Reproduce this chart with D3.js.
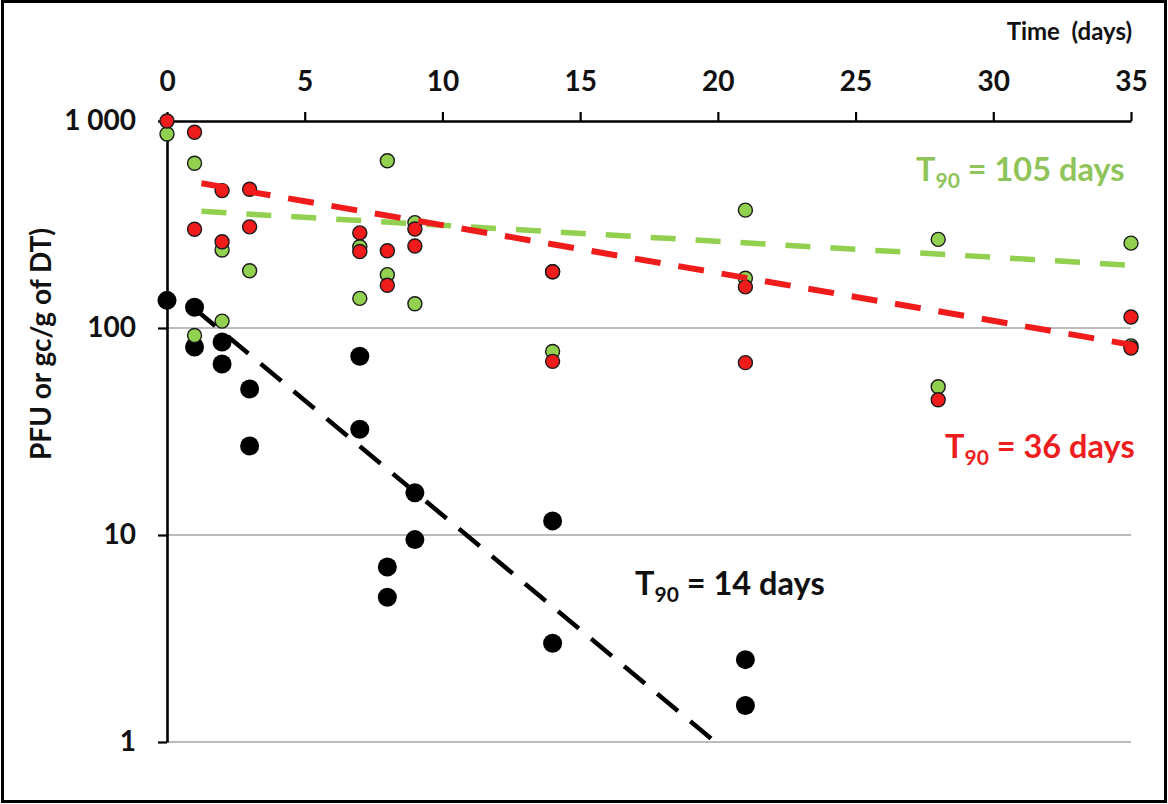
<!DOCTYPE html>
<html>
<head>
<meta charset="utf-8">
<script src="https://cdn.jsdelivr.net/npm/d3@7"></script>
<style>
  html, body { margin: 0; padding: 0; background: #fff; }
  svg { display: block; font-family: Lato, "Open Sans", sans-serif; }
</style>
</head>
<body>
<svg id="chart" width="1168" height="804"></svg>
<script>
// Time axis (days) and concentration ticks
const dayTicks = [0, 5, 10, 15, 20, 25, 30, 35];
const concTicks = [1, 10, 100, 1000];

// Infectious phage counts (black)
const blackDays   = [0, 1, 1, 2, 2, 3, 3, 7, 7, 8, 8, 9, 9, 14, 14, 21, 21];
const blackValues = [136, 126, 81, 85.5, 67, 50.7, 26.9, 73, 32.4, 7.0, 5.0, 16.0, 9.5, 11.7, 3.0, 2.5, 1.5];

// Genome copies, first assay (green)
const greenDays   = [0, 1, 1, 2, 2, 3, 7, 7, 8, 8, 9, 9, 14, 14, 21, 21, 28, 28, 35, 35];
const greenValues = [865, 625, 92, 238, 108, 189, 247, 139, 643, 181, 323, 131, 187, 77, 371, 174, 268, 52, 257, 82];

// Genome copies, second assay (red)
const redDays   = [0, 1, 1, 2, 2, 3, 3, 7, 7, 8, 8, 9, 9, 14, 14, 21, 21, 28, 35, 35];
const redValues = [1000, 882, 300, 461, 261, 468, 308, 288, 234, 236, 161, 301, 249, 187, 69, 158, 68, 45, 113, 80];

// Log-linear decay trend lines (start and end)
const blackTrendDays = [1, 19.9];
const blackTrendValues = [124, 1];
const greenTrendDays = [1.25, 35];
const greenTrendValues = [366, 201];
const redTrendDays = [1.25, 35];
const redTrendValues = [500, 83];

// T90 annotations
const t90Labels = ["105 days", "36 days", "14 days"];

const svg = d3.select("#chart");
const W = 1168, H = 804;

const x = d3.scaleLinear().domain([0, 35]).range([167, 1131]);
const y = d3.scaleLog().domain([1, 1000]).range([742, 121]);

const GREEN = "#92d050";
const RED = "#f01c1c";

// outer frame
svg.append("rect")
  .attr("x", 2.5).attr("y", 1.5)
  .attr("width", W - 5).attr("height", H - 4)
  .attr("fill", "#fff").attr("stroke", "#000").attr("stroke-width", 3);

// horizontal gridlines
svg.append("g")
  .selectAll("line")
  .data(concTicks.filter(d => d < 1000))
  .join("line")
  .attr("x1", x(0)).attr("x2", x(35))
  .attr("y1", d => y(d)).attr("y2", d => y(d))
  .attr("stroke", "#a6a6a6").attr("stroke-width", 1.3);

// top time axis
const xAxis = svg.append("g")
  .attr("transform", `translate(0,${y(1000)})`)
  .call(d3.axisTop(x).tickValues(dayTicks).tickSize(9).tickPadding(21).tickSizeOuter(0));
xAxis.select(".domain").attr("stroke-width", 2.6);
xAxis.selectAll(".tick line").attr("stroke-width", 2.2);
xAxis.selectAll(".tick text")
  .attr("font-size", 28).attr("font-weight", 700).attr("fill", "#111")
  .attr("font-family", "Lato, sans-serif");

// left concentration axis
const yAxis = svg.append("g")
  .attr("transform", `translate(${x(0)},0)`)
  .call(d3.axisLeft(y).tickValues(concTicks).tickSize(9).tickPadding(22).tickSizeOuter(0)
    .tickFormat(d => d === 1000 ? "1 000" : String(d)));
yAxis.select(".domain").attr("stroke-width", 2.6);
yAxis.selectAll(".tick line").attr("stroke-width", 2.2);
yAxis.selectAll(".tick text")
  .attr("font-size", 28).attr("font-weight", 700).attr("fill", "#111")
  .attr("font-family", "Lato, sans-serif")
  .style("white-space", "pre");

// axis titles
svg.append("text")
  .attr("x", 1132).attr("y", 40)
  .attr("text-anchor", "end")
  .attr("font-size", 24).attr("font-weight", 700).attr("fill", "#111")
  .style("white-space", "pre")
  .text("Time  (days)");

svg.append("text")
  .attr("transform", "translate(51,344) rotate(-90)")
  .attr("text-anchor", "middle")
  .attr("font-size", 28).attr("font-weight", 700).attr("fill", "#111")
  .text("PFU or gc/g of DT)");

// markers
function drawPoints(days, values, r, fill, stroke, sw) {
  svg.append("g")
    .selectAll("circle")
    .data(days.map((d, i) => ({ d, v: values[i] })))
    .join("circle")
    .attr("cx", p => x(p.d)).attr("cy", p => y(p.v))
    .attr("r", r)
    .attr("fill", fill).attr("stroke", stroke).attr("stroke-width", sw);
}
drawPoints(blackDays, blackValues, 9.5, "#000", "#000", 0);
drawPoints(greenDays, greenValues, 7, GREEN, "#1a1a1a", 1.4);
drawPoints(redDays, redValues, 7, RED, "#1a1a1a", 1.4);

// trend lines
const line = d3.line().x(p => x(p.d)).y(p => y(p.v));
function drawTrend(days, values, color, width, dash) {
  svg.append("path")
    .datum(days.map((d, i) => ({ d, v: values[i] })))
    .attr("d", line)
    .attr("fill", "none").attr("stroke", color)
    .attr("stroke-width", width).attr("stroke-dasharray", dash);
}
drawTrend(blackTrendDays, blackTrendValues, "#000", 4.5, "27 16");
drawTrend(greenTrendDays, greenTrendValues, GREEN, 5.5, "25 20");
drawTrend(redTrendDays, redTrendValues, RED, 6, "26 18");

// T90 labels
function t90(xPos, yPos, label, color) {
  const t = svg.append("text")
    .attr("x", xPos).attr("y", yPos)
    .attr("font-size", 32.5).attr("font-weight", 700).attr("fill", color);
  t.append("tspan").text("T");
  t.append("tspan").attr("font-size", 21).attr("dy", 7).text("90");
  t.append("tspan").attr("dy", -7).text(" = " + label);
}
t90(916, 181, t90Labels[0], "#8fc45a");
t90(945, 458, t90Labels[1], "#ee1e1e");
t90(635, 595, t90Labels[2], "#111");
</script>
</body>
</html>
